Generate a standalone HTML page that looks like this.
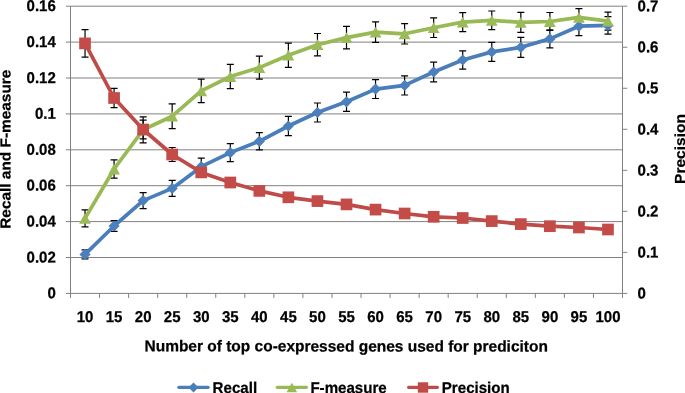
<!DOCTYPE html>
<html><head><meta charset="utf-8"><title>chart</title>
<style>html,body{margin:0;padding:0;background:#fff;}svg{display:block;}text{font-family:"Liberation Sans",sans-serif;font-weight:bold;font-size:15px;fill:#000;stroke:#000;stroke-width:0.25px;filter:grayscale(1);}</style>
</head><body>
<svg width="685" height="393" viewBox="0 0 685 393">
<rect x="0" y="0" width="685" height="393" fill="#ffffff"/>
<g stroke="#808080" stroke-width="1" fill="none">
<line x1="65.8" y1="6.2" x2="622.5" y2="6.2"/>
<line x1="65.8" y1="42.1" x2="622.5" y2="42.1"/>
<line x1="65.8" y1="78" x2="622.5" y2="78"/>
<line x1="65.8" y1="113.9" x2="622.5" y2="113.9"/>
<line x1="65.8" y1="149.8" x2="622.5" y2="149.8"/>
<line x1="65.8" y1="185.7" x2="622.5" y2="185.7"/>
<line x1="65.8" y1="221.6" x2="622.5" y2="221.6"/>
<line x1="65.8" y1="257.5" x2="622.5" y2="257.5"/>
<line x1="65.8" y1="293.4" x2="622.5" y2="293.4"/>
<line x1="70.5" y1="6.2" x2="70.5" y2="297.9"/>
<line x1="622.5" y1="6.2" x2="622.5" y2="297.9"/>
<line x1="99.55" y1="293.4" x2="99.55" y2="297.9"/>
<line x1="128.61" y1="293.4" x2="128.61" y2="297.9"/>
<line x1="157.66" y1="293.4" x2="157.66" y2="297.9"/>
<line x1="186.71" y1="293.4" x2="186.71" y2="297.9"/>
<line x1="215.76" y1="293.4" x2="215.76" y2="297.9"/>
<line x1="244.82" y1="293.4" x2="244.82" y2="297.9"/>
<line x1="273.87" y1="293.4" x2="273.87" y2="297.9"/>
<line x1="302.92" y1="293.4" x2="302.92" y2="297.9"/>
<line x1="331.97" y1="293.4" x2="331.97" y2="297.9"/>
<line x1="361.03" y1="293.4" x2="361.03" y2="297.9"/>
<line x1="390.08" y1="293.4" x2="390.08" y2="297.9"/>
<line x1="419.13" y1="293.4" x2="419.13" y2="297.9"/>
<line x1="448.18" y1="293.4" x2="448.18" y2="297.9"/>
<line x1="477.24" y1="293.4" x2="477.24" y2="297.9"/>
<line x1="506.29" y1="293.4" x2="506.29" y2="297.9"/>
<line x1="535.34" y1="293.4" x2="535.34" y2="297.9"/>
<line x1="564.39" y1="293.4" x2="564.39" y2="297.9"/>
<line x1="593.45" y1="293.4" x2="593.45" y2="297.9"/>
<line x1="622.5" y1="6.2" x2="627.3" y2="6.2"/>
<line x1="622.5" y1="47.23" x2="627.3" y2="47.23"/>
<line x1="622.5" y1="88.26" x2="627.3" y2="88.26"/>
<line x1="622.5" y1="129.29" x2="627.3" y2="129.29"/>
<line x1="622.5" y1="170.31" x2="627.3" y2="170.31"/>
<line x1="622.5" y1="211.34" x2="627.3" y2="211.34"/>
<line x1="622.5" y1="252.37" x2="627.3" y2="252.37"/>
<line x1="622.5" y1="293.4" x2="627.3" y2="293.4"/>
</g>
<g stroke="#000000" stroke-width="1.2" fill="none">
<path d="M85.03 249.9V258.9M81.53 249.9H88.53M81.53 258.9H88.53"/>
<path d="M114.08 220.7V231.3M110.58 220.7H117.58M110.58 231.3H117.58"/>
<path d="M143.13 192.6V208.6M139.63 192.6H146.63M139.63 208.6H146.63"/>
<path d="M172.18 180.4V196.4M168.68 180.4H175.68M168.68 196.4H175.68"/>
<path d="M201.24 158.2V175.2M197.74 158.2H204.74M197.74 175.2H204.74"/>
<path d="M230.29 143.6V161.6M226.79 143.6H233.79M226.79 161.6H233.79"/>
<path d="M259.34 132.7V149.9M255.84 132.7H262.84M255.84 149.9H262.84"/>
<path d="M288.39 116.3V135.7M284.89 116.3H291.89M284.89 135.7H291.89"/>
<path d="M317.45 103V122M313.95 103H320.95M313.95 122H320.95"/>
<path d="M346.5 92.2V111.4M343 92.2H350M343 111.4H350"/>
<path d="M375.55 79.7V98.5M372.05 79.7H379.05M372.05 98.5H379.05"/>
<path d="M404.61 75.8V95M401.11 75.8H408.11M401.11 95H408.11"/>
<path d="M433.66 62.2V81.8M430.16 62.2H437.16M430.16 81.8H437.16"/>
<path d="M462.71 50.8V69.2M459.21 50.8H466.21M459.21 69.2H466.21"/>
<path d="M491.76 42.4V61.4M488.26 42.4H495.26M488.26 61.4H495.26"/>
<path d="M520.82 37.3V57.3M517.32 37.3H524.32M517.32 57.3H524.32"/>
<path d="M549.87 29.9V47.9M546.37 29.9H553.37M546.37 47.9H553.37"/>
<path d="M578.92 16.7V35.7M575.42 16.7H582.42M575.42 35.7H582.42"/>
<path d="M607.97 16.6V34.2M604.47 16.6H611.47M604.47 34.2H611.47"/>
</g>
<g stroke="#000000" stroke-width="1.2" fill="none">
<path d="M85.03 209.9V226.9M81.53 209.9H88.53M81.53 226.9H88.53"/>
<path d="M114.08 159.9V178.1M110.58 159.9H117.58M110.58 178.1H117.58"/>
<path d="M143.13 116.8V142.8M139.63 116.8H146.63M139.63 142.8H146.63"/>
<path d="M172.18 103.8V128.6M168.68 103.8H175.68M168.68 128.6H175.68"/>
<path d="M201.24 79.2V102.6M197.74 79.2H204.74M197.74 102.6H204.74"/>
<path d="M230.29 64.3V88.7M226.79 64.3H233.79M226.79 88.7H233.79"/>
<path d="M259.34 56.1V79.1M255.84 56.1H262.84M255.84 79.1H262.84"/>
<path d="M288.39 43.1V67.3M284.89 43.1H291.89M284.89 67.3H291.89"/>
<path d="M317.45 33.5V55.9M313.95 33.5H320.95M313.95 55.9H320.95"/>
<path d="M346.5 26.3V48.9M343 26.3H350M343 48.9H350"/>
<path d="M375.55 21.9V42.3M372.05 21.9H379.05M372.05 42.3H379.05"/>
<path d="M404.61 23.6V44M401.11 23.6H408.11M401.11 44H408.11"/>
<path d="M433.66 17.9V37.5M430.16 17.9H437.16M430.16 37.5H437.16"/>
<path d="M462.71 12.6V31.6M459.21 12.6H466.21M459.21 31.6H466.21"/>
<path d="M491.76 11V29.6M488.26 11H495.26M488.26 29.6H495.26"/>
<path d="M520.82 12.4V32.4M517.32 12.4H524.32M517.32 32.4H524.32"/>
<path d="M549.87 12.5V30.5M546.37 12.5H553.37M546.37 30.5H553.37"/>
<path d="M578.92 8.7V25.9M575.42 8.7H582.42M575.42 25.9H582.42"/>
<path d="M607.97 12.1V30.1M604.47 12.1H611.47M604.47 30.1H611.47"/>
</g>
<g stroke="#000000" stroke-width="1.2" fill="none">
<path d="M85.03 29.6V57.2M81.53 29.6H88.53M81.53 57.2H88.53"/>
<path d="M114.08 88.4V107.6M110.58 88.4H117.58M110.58 107.6H117.58"/>
<path d="M143.13 120.1V138.9M139.63 120.1H146.63M139.63 138.9H146.63"/>
<path d="M172.18 147.5V161.5M168.68 147.5H175.68M168.68 161.5H175.68"/>
<path d="M201.24 167.4V177.4M197.74 167.4H204.74M197.74 177.4H204.74"/>
<path d="M230.29 178.5V186.5M226.79 178.5H233.79M226.79 186.5H233.79"/>
<path d="M259.34 186.9V194.9M255.84 186.9H262.84M255.84 194.9H262.84"/>
<path d="M288.39 194.3V200.3M284.89 194.3H291.89M284.89 200.3H291.89"/>
<path d="M317.45 198.1V204.1M313.95 198.1H320.95M313.95 204.1H320.95"/>
<path d="M346.5 201.4V207.4M343 201.4H350M343 207.4H350"/>
<path d="M375.55 206.6V212.6M372.05 206.6H379.05M372.05 212.6H379.05"/>
<path d="M404.61 210.5V216.5M401.11 210.5H408.11M401.11 216.5H408.11"/>
<path d="M433.66 213.8V219.8M430.16 213.8H437.16M430.16 219.8H437.16"/>
<path d="M462.71 215V221M459.21 215H466.21M459.21 221H466.21"/>
<path d="M491.76 218.1V224.1M488.26 218.1H495.26M488.26 224.1H495.26"/>
<path d="M520.82 221.1V227.1M517.32 221.1H524.32M517.32 227.1H524.32"/>
<path d="M549.87 223.2V229.2M546.37 223.2H553.37M546.37 229.2H553.37"/>
<path d="M578.92 224.5V230.5M575.42 224.5H582.42M575.42 230.5H582.42"/>
<path d="M607.97 226.5V232.5M604.47 226.5H611.47M604.47 232.5H611.47"/>
</g>
<polyline points="85.03,254.4 114.08,226 143.13,200.6 172.18,188.4 201.24,166.7 230.29,152.6 259.34,141.3 288.39,126 317.45,112.5 346.5,101.8 375.55,89.1 404.61,85.4 433.66,72 462.71,60 491.76,51.9 520.82,47.3 549.87,38.9 578.92,26.2 607.97,25.4" fill="none" stroke="#4a7ebb" stroke-width="3.7" stroke-linejoin="round" stroke-linecap="round"/>
<g fill="#4c80bd">
<path d="M85.03 248.8L90.63 254.4L85.03 260L79.43 254.4Z"/>
<path d="M114.08 220.4L119.68 226L114.08 231.6L108.48 226Z"/>
<path d="M143.13 195L148.73 200.6L143.13 206.2L137.53 200.6Z"/>
<path d="M172.18 182.8L177.78 188.4L172.18 194L166.58 188.4Z"/>
<path d="M201.24 161.1L206.84 166.7L201.24 172.3L195.64 166.7Z"/>
<path d="M230.29 147L235.89 152.6L230.29 158.2L224.69 152.6Z"/>
<path d="M259.34 135.7L264.94 141.3L259.34 146.9L253.74 141.3Z"/>
<path d="M288.39 120.4L293.99 126L288.39 131.6L282.79 126Z"/>
<path d="M317.45 106.9L323.05 112.5L317.45 118.1L311.85 112.5Z"/>
<path d="M346.5 96.2L352.1 101.8L346.5 107.4L340.9 101.8Z"/>
<path d="M375.55 83.5L381.15 89.1L375.55 94.7L369.95 89.1Z"/>
<path d="M404.61 79.8L410.21 85.4L404.61 91L399.01 85.4Z"/>
<path d="M433.66 66.4L439.26 72L433.66 77.6L428.06 72Z"/>
<path d="M462.71 54.4L468.31 60L462.71 65.6L457.11 60Z"/>
<path d="M491.76 46.3L497.36 51.9L491.76 57.5L486.16 51.9Z"/>
<path d="M520.82 41.7L526.42 47.3L520.82 52.9L515.22 47.3Z"/>
<path d="M549.87 33.3L555.47 38.9L549.87 44.5L544.27 38.9Z"/>
<path d="M578.92 20.6L584.52 26.2L578.92 31.8L573.32 26.2Z"/>
<path d="M607.97 19.8L613.57 25.4L607.97 31L602.37 25.4Z"/>
</g>
<polyline points="85.03,218.4 114.08,169 143.13,129.8 172.18,116.2 201.24,90.9 230.29,76.5 259.34,67.6 288.39,55.2 317.45,44.7 346.5,37.6 375.55,32.1 404.61,33.8 433.66,27.7 462.71,22.1 491.76,20.3 520.82,22.4 549.87,21.5 578.92,17.3 607.97,21.1" fill="none" stroke="#98b954" stroke-width="3.7" stroke-linejoin="round" stroke-linecap="round"/>
<g fill="#9abb57">
<path d="M85.03 213L90.93 223.8L79.13 223.8Z"/>
<path d="M114.08 163.6L119.98 174.4L108.18 174.4Z"/>
<path d="M143.13 124.4L149.03 135.2L137.23 135.2Z"/>
<path d="M172.18 110.8L178.08 121.6L166.28 121.6Z"/>
<path d="M201.24 85.5L207.14 96.3L195.34 96.3Z"/>
<path d="M230.29 71.1L236.19 81.9L224.39 81.9Z"/>
<path d="M259.34 62.2L265.24 73L253.44 73Z"/>
<path d="M288.39 49.8L294.29 60.6L282.49 60.6Z"/>
<path d="M317.45 39.3L323.35 50.1L311.55 50.1Z"/>
<path d="M346.5 32.2L352.4 43L340.6 43Z"/>
<path d="M375.55 26.7L381.45 37.5L369.65 37.5Z"/>
<path d="M404.61 28.4L410.51 39.2L398.71 39.2Z"/>
<path d="M433.66 22.3L439.56 33.1L427.76 33.1Z"/>
<path d="M462.71 16.7L468.61 27.5L456.81 27.5Z"/>
<path d="M491.76 14.9L497.66 25.7L485.86 25.7Z"/>
<path d="M520.82 17L526.72 27.8L514.92 27.8Z"/>
<path d="M549.87 16.1L555.77 26.9L543.97 26.9Z"/>
<path d="M578.92 11.9L584.82 22.7L573.02 22.7Z"/>
<path d="M607.97 15.7L613.87 26.5L602.07 26.5Z"/>
</g>
<polyline points="85.03,43.4 114.08,98 143.13,129.5 172.18,154.5 201.24,172.4 230.29,182.5 259.34,190.9 288.39,197.3 317.45,201.1 346.5,204.4 375.55,209.6 404.61,213.5 433.66,216.8 462.71,218 491.76,221.1 520.82,224.1 549.87,226.2 578.92,227.5 607.97,229.5" fill="none" stroke="#be4b48" stroke-width="3.7" stroke-linejoin="round" stroke-linecap="round"/>
<g fill="#c44c48">
<rect x="79.18" y="37.55" width="11.7" height="11.7"/>
<rect x="108.23" y="92.15" width="11.7" height="11.7"/>
<rect x="137.28" y="123.65" width="11.7" height="11.7"/>
<rect x="166.33" y="148.65" width="11.7" height="11.7"/>
<rect x="195.39" y="166.55" width="11.7" height="11.7"/>
<rect x="224.44" y="176.65" width="11.7" height="11.7"/>
<rect x="253.49" y="185.05" width="11.7" height="11.7"/>
<rect x="282.54" y="191.45" width="11.7" height="11.7"/>
<rect x="311.6" y="195.25" width="11.7" height="11.7"/>
<rect x="340.65" y="198.55" width="11.7" height="11.7"/>
<rect x="369.7" y="203.75" width="11.7" height="11.7"/>
<rect x="398.76" y="207.65" width="11.7" height="11.7"/>
<rect x="427.81" y="210.95" width="11.7" height="11.7"/>
<rect x="456.86" y="212.15" width="11.7" height="11.7"/>
<rect x="485.91" y="215.25" width="11.7" height="11.7"/>
<rect x="514.97" y="218.25" width="11.7" height="11.7"/>
<rect x="544.02" y="220.35" width="11.7" height="11.7"/>
<rect x="573.07" y="221.65" width="11.7" height="11.7"/>
<rect x="602.12" y="223.65" width="11.7" height="11.7"/>
</g>
<text transform="translate(55.8,11.1) rotate(0.03) scale(1.0,1.04)" text-anchor="end">0.16</text>
<text transform="translate(55.8,47) rotate(0.03) scale(1.0,1.04)" text-anchor="end">0.14</text>
<text transform="translate(55.8,82.9) rotate(0.03) scale(1.0,1.04)" text-anchor="end">0.12</text>
<text transform="translate(55.8,118.8) rotate(0.03) scale(1.0,1.04)" text-anchor="end">0.1</text>
<text transform="translate(55.8,154.7) rotate(0.03) scale(1.0,1.04)" text-anchor="end">0.08</text>
<text transform="translate(55.8,190.6) rotate(0.03) scale(1.0,1.04)" text-anchor="end">0.06</text>
<text transform="translate(55.8,226.5) rotate(0.03) scale(1.0,1.04)" text-anchor="end">0.04</text>
<text transform="translate(55.8,262.4) rotate(0.03) scale(1.0,1.04)" text-anchor="end">0.02</text>
<text transform="translate(55.8,298.3) rotate(0.03) scale(1.0,1.04)" text-anchor="end">0</text>
<text transform="translate(637.6,11.3) rotate(0.03) scale(1.0,1.04)" text-anchor="start">0.7</text>
<text transform="translate(637.6,52.33) rotate(0.03) scale(1.0,1.04)" text-anchor="start">0.6</text>
<text transform="translate(637.6,93.36) rotate(0.03) scale(1.0,1.04)" text-anchor="start">0.5</text>
<text transform="translate(637.6,134.39) rotate(0.03) scale(1.0,1.04)" text-anchor="start">0.4</text>
<text transform="translate(637.6,175.41) rotate(0.03) scale(1.0,1.04)" text-anchor="start">0.3</text>
<text transform="translate(637.6,216.44) rotate(0.03) scale(1.0,1.04)" text-anchor="start">0.2</text>
<text transform="translate(637.6,257.47) rotate(0.03) scale(1.0,1.04)" text-anchor="start">0.1</text>
<text transform="translate(637.6,298.5) rotate(0.03) scale(1.0,1.04)" text-anchor="start">0</text>
<text transform="translate(85.03,321.9) rotate(0.03) scale(1.0,1.04)" text-anchor="middle">10</text>
<text transform="translate(114.08,321.9) rotate(0.03) scale(1.0,1.04)" text-anchor="middle">15</text>
<text transform="translate(143.13,321.9) rotate(0.03) scale(1.0,1.04)" text-anchor="middle">20</text>
<text transform="translate(172.18,321.9) rotate(0.03) scale(1.0,1.04)" text-anchor="middle">25</text>
<text transform="translate(201.24,321.9) rotate(0.03) scale(1.0,1.04)" text-anchor="middle">30</text>
<text transform="translate(230.29,321.9) rotate(0.03) scale(1.0,1.04)" text-anchor="middle">35</text>
<text transform="translate(259.34,321.9) rotate(0.03) scale(1.0,1.04)" text-anchor="middle">40</text>
<text transform="translate(288.39,321.9) rotate(0.03) scale(1.0,1.04)" text-anchor="middle">45</text>
<text transform="translate(317.45,321.9) rotate(0.03) scale(1.0,1.04)" text-anchor="middle">50</text>
<text transform="translate(346.5,321.9) rotate(0.03) scale(1.0,1.04)" text-anchor="middle">55</text>
<text transform="translate(375.55,321.9) rotate(0.03) scale(1.0,1.04)" text-anchor="middle">60</text>
<text transform="translate(404.61,321.9) rotate(0.03) scale(1.0,1.04)" text-anchor="middle">65</text>
<text transform="translate(433.66,321.9) rotate(0.03) scale(1.0,1.04)" text-anchor="middle">70</text>
<text transform="translate(462.71,321.9) rotate(0.03) scale(1.0,1.04)" text-anchor="middle">75</text>
<text transform="translate(491.76,321.9) rotate(0.03) scale(1.0,1.04)" text-anchor="middle">80</text>
<text transform="translate(520.82,321.9) rotate(0.03) scale(1.0,1.04)" text-anchor="middle">85</text>
<text transform="translate(549.87,321.9) rotate(0.03) scale(1.0,1.04)" text-anchor="middle">90</text>
<text transform="translate(578.92,321.9) rotate(0.03) scale(1.0,1.04)" text-anchor="middle">95</text>
<text transform="translate(607.97,321.9) rotate(0.03) scale(1.0,1.04)" text-anchor="middle">100</text>
<text transform="translate(346.2,351.4) rotate(0.03) scale(1.033,1.04)" text-anchor="middle">Number of top co-expressed genes used for prediciton</text>
<text transform="translate(10.5,149.2) rotate(-90.03) scale(1.027,0.97)" text-anchor="middle">Recall and F-measure</text>
<text transform="translate(685,149) rotate(-90.03) scale(1.035,0.97)" text-anchor="middle">Precision</text>
<line x1="178.9" y1="387.3" x2="208.1" y2="387.3" stroke="#4a7ebb" stroke-width="3.2" stroke-linecap="round"/>
<g fill="#4a7ebb"><path d="M193.5 382.52L198.48 387.5L193.5 392.48L188.52 387.5Z"/></g>
<text transform="translate(212.6,392.9) rotate(0.03) scale(1.007,1.04)" text-anchor="start">Recall</text>
<line x1="277.3" y1="387.3" x2="306.4" y2="387.3" stroke="#98b954" stroke-width="3.2" stroke-linecap="round"/>
<g fill="#98b954"><path d="M291.85 382.69L297.1 392.31L286.6 392.31Z"/></g>
<text transform="translate(310.4,392.9) rotate(0.03) scale(1.007,1.04)" text-anchor="start">F-measure</text>
<line x1="408.6" y1="387.3" x2="437.4" y2="387.3" stroke="#be4b48" stroke-width="3.2" stroke-linecap="round"/>
<g fill="#be4b48"><rect x="417.79" y="382.29" width="10.41" height="10.41"/></g>
<text transform="translate(441.8,392.9) rotate(0.03) scale(1.007,1.04)" text-anchor="start">Precision</text>
</svg>
</body></html>
